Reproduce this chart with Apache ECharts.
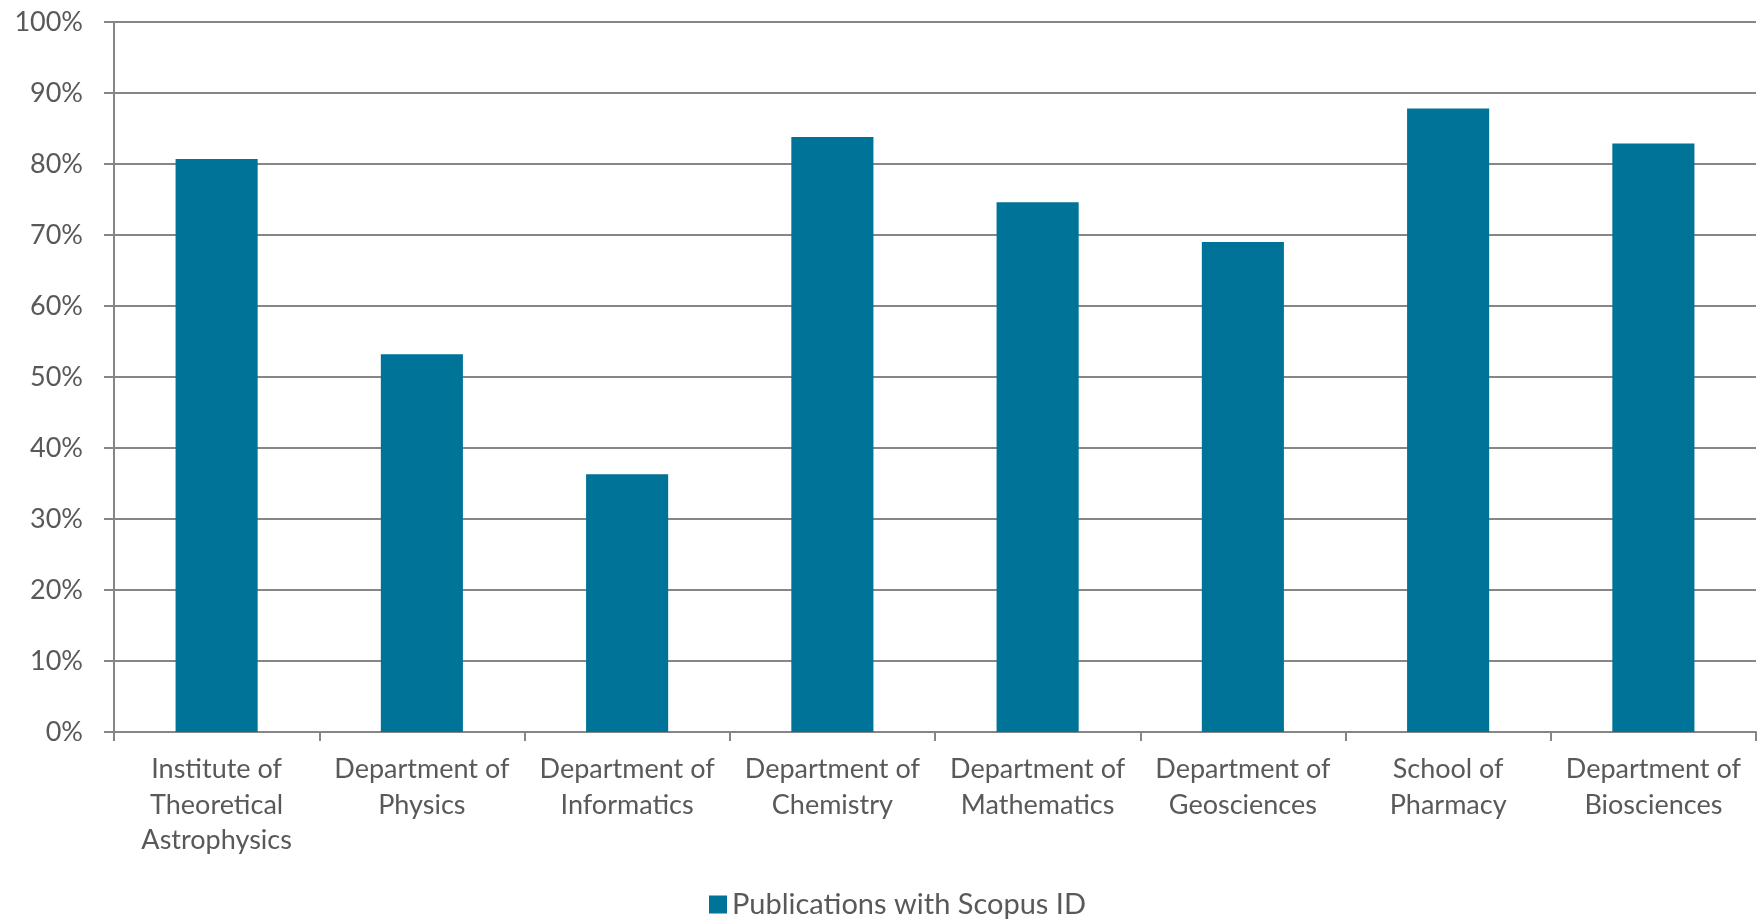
<!DOCTYPE html>
<html>
<head>
<meta charset="utf-8">
<title>Publications with Scopus ID</title>
<script src="https://cdn.jsdelivr.net/npm/echarts@6/dist/echarts.min.js"></script>
<style>
  html, body { margin: 0; padding: 0; background: #ffffff; }
  #chart { width: 1764px; height: 919px; }
</style>
</head>
<body>
<div id="chart"></div>
<script>
// Departments along the x axis
const departments = [
  'Institute of\nTheoretical\nAstrophysics',
  'Department of\nPhysics',
  'Department of\nInformatics',
  'Department of\nChemistry',
  'Department of\nMathematics',
  'Department of\nGeosciences',
  'School of\nPharmacy',
  'Department of\nBiosciences'
];

// Share of publications with a Scopus ID, in percent
const scopusShare = [80.7, 53.2, 36.3, 83.8, 74.6, 69.0, 87.8, 82.9];

const seriesName = 'Publications with Scopus ID';

const textColor = '#595959';
const lineColor = '#868686';
const barColor = '#007398';
const fontFamily = 'Lato, "Open Sans", sans-serif';

const chart = echarts.init(document.getElementById('chart'), null, { renderer: 'canvas' });

chart.setOption({
  animation: false,
  backgroundColor: '#ffffff',
  textStyle: { fontFamily: fontFamily },
  grid: { left: 114, right: 8, top: 22, bottom: 187, containLabel: false },
  legend: {
    data: [seriesName],
    left: 704,
    top: 885,
    itemWidth: 18,
    itemHeight: 18,
    itemGap: 10,
    icon: 'rect',
    textStyle: { color: textColor, fontSize: 29, fontFamily: fontFamily }
  },
  xAxis: {
    type: 'category',
    data: departments,
    boundaryGap: true,
    axisLine: { show: true, lineStyle: { color: lineColor, width: 2 } },
    axisTick: { show: true, interval: 0, alignWithLabel: false, length: 9, lineStyle: { color: lineColor, width: 2 } },
    axisLabel: {
      interval: 0,
      color: textColor,
      fontSize: 27,
      lineHeight: 35.5,
      margin: 20,
      fontFamily: fontFamily
    }
  },
  yAxis: {
    type: 'value',
    min: 0,
    max: 100,
    interval: 10,
    axisLine: { show: true, lineStyle: { color: lineColor, width: 2 } },
    axisTick: { show: true, length: 10, lineStyle: { color: lineColor, width: 2 } },
    splitLine: { show: true, lineStyle: { color: lineColor, width: 2 } },
    axisLabel: {
      formatter: '{value}%',
      color: textColor,
      fontSize: 27,
      margin: 31,
      fontFamily: fontFamily
    }
  },
  series: [{
    name: seriesName,
    type: 'bar',
    data: scopusShare,
    barWidth: '40%',
    itemStyle: { color: barColor }
  }]
});
</script>
</body>
</html>
